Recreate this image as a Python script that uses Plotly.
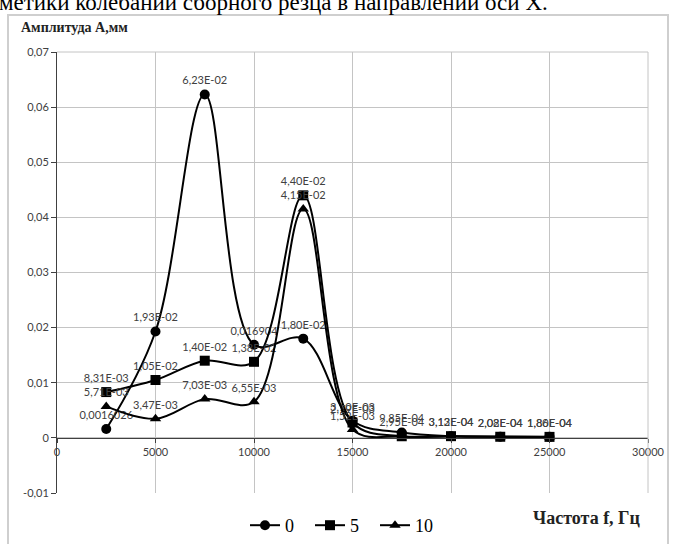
import plotly.graph_objects as go

freq = [2500, 5000, 7500, 10000, 12500, 15000, 17500, 20000, 22500, 25000]

amp_0 = [0.0016026, 0.0193, 0.0623, 0.016904, 0.0180, 0.00310, 0.000985, 0.000313, 0.000208, 0.000186]
amp_5 = [0.00831, 0.0105, 0.0140, 0.0138, 0.0440, 0.00279, 0.000295, 0.000312, 0.000202, 0.000180]
amp_10 = [0.00571, 0.00347, 0.00703, 0.00655, 0.0415, 0.00152, 0.000250, 0.000305, 0.000200, 0.000175]

labels_0 = ["0,0016026", "1,93E-02", "6,23E-02", "0,016904", "1,80E-02", "3,10E-03", "9,85E-04", "3,13E-04", "2,08E-04", "1,86E-04"]
labels_5 = ["8,31E-03", "1,05E-02", "1,40E-02", "1,38E-02", "4,40E-02", "2,79E-03", "2,95E-04", "3,12E-04", "2,02E-04", "1,80E-04"]
labels_10 = ["5,71E-03", "3,47E-03", "7,03E-03", "6,55E-03", "4,15E-02", "1,52E-03", "", "", "", ""]

series_names = ["0", "5", "10"]

y_ticks = [-0.01, 0, 0.01, 0.02, 0.03, 0.04, 0.05, 0.06, 0.07]
y_tick_text = ["-0,01", "0", "0,01", "0,02", "0,03", "0,04", "0,05", "0,06", "0,07"]
x_ticks = [0, 5000, 10000, 15000, 20000, 25000, 30000]
x_tick_text = ["0", "5000", "10000", "15000", "20000", "25000", "30000"]

W, H = 675, 544
L, R, T, B = 57, 27, 52, 51
pw, ph = W - L - R, H - T - B


def px_x(p):
    return (p - L) / pw


def px_y(p):
    return (H - B - p) / ph


label_font = dict(family="Lato, Open Sans, sans-serif", size=11, color="#404040")

fig = go.Figure()
symbols = ["circle", "square", "triangle-up"]
sizes = [10, 10, 10]
for name, ys, labs, sym, sz in zip(series_names, [amp_0, amp_5, amp_10],
                                   [labels_0, labels_5, labels_10], symbols, sizes):
    fig.add_trace(go.Scatter(
        x=freq, y=ys, name=name, mode="lines+markers+text",
        text=labs, textposition="top center", textfont=label_font,
        line=dict(color="black", width=2, shape="spline", smoothing=1),
        marker=dict(symbol=sym, size=sz, color="black"),
        cliponaxis=False,
    ))

y_min, y_max = -0.01, 0.07
zero_pos = (0 - y_min) / (y_max - y_min)

fig.update_layout(
    width=W, height=H,
    margin=dict(l=L, r=R, t=T, b=B, autoexpand=False),
    paper_bgcolor="white", plot_bgcolor="white",
    showlegend=True,
    legend=dict(orientation="h", xref="container", yref="container",
                x=245 / W, y=1 - 507 / H, xanchor="left", yanchor="top",
                font=dict(family="Liberation Serif, serif", size=18, color="black"),
                itemwidth=30, entrywidth=20, entrywidthmode="pixels",
                tracegroupgap=0, bgcolor="rgba(0,0,0,0)"),
    xaxis=dict(range=[0, 30000], tickvals=x_ticks, ticktext=x_tick_text,
               showgrid=True, gridcolor="#c4c4c4", gridwidth=1,
               showline=True, linecolor="#404040", linewidth=1,
               anchor="free", position=zero_pos,
               ticks="outside", ticklen=4, tickcolor="#404040",
               tickfont=dict(family="Lato, Open Sans, sans-serif", size=11, color="#404040"),
               zeroline=False, automargin=False),
    yaxis=dict(range=[y_min, y_max], tickvals=y_ticks, ticktext=y_tick_text,
               showgrid=True, gridcolor="#c4c4c4", gridwidth=1,
               showline=True, linecolor="#404040", linewidth=1,
               ticks="outside", ticklen=5, tickcolor="#404040",
               tickfont=dict(family="Lato, Open Sans, sans-serif", size=11, color="#404040"),
               zeroline=False, automargin=False),
    shapes=[
        dict(type="rect", xref="paper", yref="paper",
             x0=px_x(8), x1=px_x(668), y0=px_y(560), y1=px_y(15),
             line=dict(color="#cfcfcf", width=2), fillcolor="rgba(0,0,0,0)", layer="below"),
        dict(type="line", xref="paper", yref="paper",
             x0=1, x1=1, y0=0, y1=1, line=dict(color="#c4c4c4", width=1)),
        dict(type="line", xref="paper", yref="paper",
             x0=0, x1=1, y0=1, y1=1, line=dict(color="#c4c4c4", width=1)),
    ],
    annotations=[
        dict(text="метики колебаний сборного резца в направлении оси X.",
             xref="paper", yref="paper", x=px_x(-3), y=px_y(3),
             xanchor="left", yanchor="middle", showarrow=False,
             font=dict(family="Liberation Serif, serif", size=23, color="black")),
        dict(text="<b>Амплитуда А,мм</b>", xref="paper", yref="paper",
             x=px_x(19), y=px_y(28), xanchor="left", yanchor="middle", showarrow=False,
             font=dict(family="Liberation Serif, serif", size=14, color="#222222")),
        dict(text="<b>Частота f, Гц</b>", xref="paper", yref="paper",
             x=px_x(643), y=px_y(518), xanchor="right", yanchor="middle", showarrow=False,
             font=dict(family="Liberation Serif, serif", size=18, color="#222222")),
    ],
)

fig.write_html("out.html", config={"displayModeBar": False},
               post_script="document.body.style.margin='0';")
